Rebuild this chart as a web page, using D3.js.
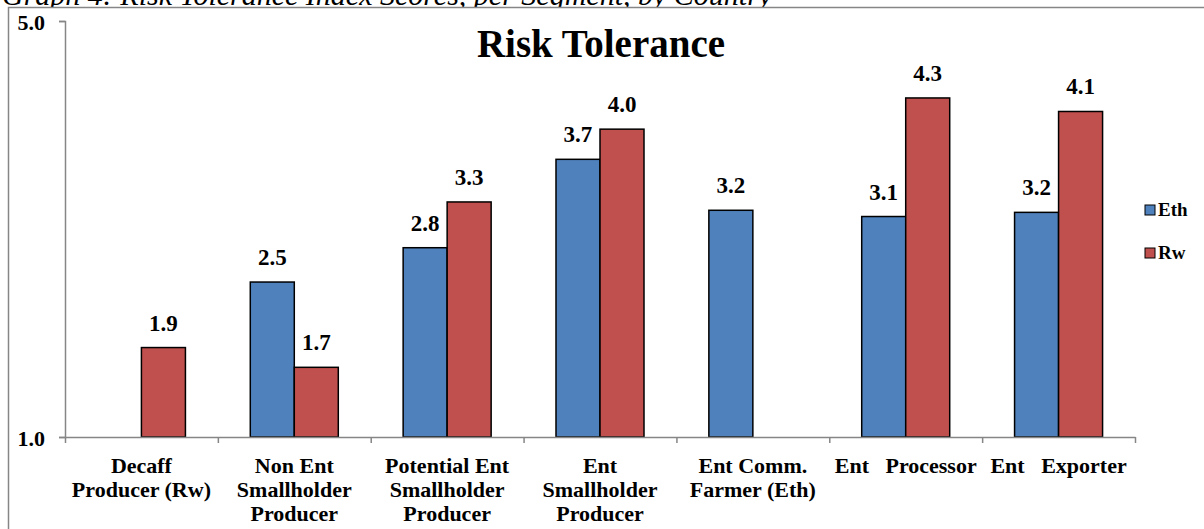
<!DOCTYPE html>
<html>
<head>
<meta charset="utf-8">
<script src="https://cdn.jsdelivr.net/npm/d3@7"></script>
<style>
  html, body { margin: 0; padding: 0; background: #ffffff; }
  svg { display: block; }
  text { font-family: "Liberation Serif", "DejaVu Serif", serif; }
</style>
</head>
<body>
<svg id="chart" width="1204" height="529"></svg>
<script>
// ---- Data ----
const categories = [
  ["Decaff", "Producer (Rw)"],
  ["Non Ent", "Smallholder", "Producer"],
  ["Potential Ent", "Smallholder", "Producer"],
  ["Ent", "Smallholder", "Producer"],
  ["Ent Comm.", "Farmer (Eth)"],
  ["Ent   Processor"],
  ["Ent   Exporter"]
];
const seriesNames = ["Eth", "Rw"];
const ethValues = [null, 2.49, 2.82, 3.67, 3.18, 3.12, 3.16];
const rwValues  = [1.86, 1.67, 3.26, 3.96, null, 4.26, 4.13];
const yTicks = [1.0, 5.0];
const seriesColors = ["#4F81BD", "#C0504D"];
const chartTitle = "Risk Tolerance";
const caption = "Graph 4: Risk Tolerance Index Scores, per Segment, by Country";

// ---- Layout ----
const svg = d3.select("#chart");
const plot = { left: 65, right: 1135, top: 21, bottom: 437 };

const x = d3.scaleBand()
  .domain(d3.range(categories.length))
  .range([plot.left, plot.right])
  .paddingInner(0).paddingOuter(0);

const xSub = d3.scaleBand()
  .domain(seriesNames)
  .range([0, x.bandwidth()])
  .paddingInner(0)
  .paddingOuter(0.737);

const y = d3.scaleLinear().domain([1, 5]).range([plot.bottom, plot.top]);

// caption (partly above the top edge, as in the source)
svg.append("text")
  .attr("x", 2).attr("y", 5)
  .attr("font-style", "italic")
  .attr("font-size", 30)
  .attr("fill", "#000")
  .text(caption);

// white band under the border so the caption is clipped like the source
svg.append("rect")
  .attr("x", 0).attr("y", 7)
  .attr("width", 1204).attr("height", 30)
  .attr("fill", "#fff");

// chart area border
svg.append("rect")
  .attr("x", 8.5).attr("y", 7.5)
  .attr("width", 1200).attr("height", 540)
  .attr("fill", "none")
  .attr("stroke", "#868686")
  .attr("stroke-width", 1.5);

// title
svg.append("text")
  .attr("x", 601).attr("y", 57)
  .attr("text-anchor", "middle")
  .attr("font-weight", "bold")
  .attr("font-size", 39)
  .attr("fill", "#000")
  .text(chartTitle);

// bars
const rows = [];
categories.forEach((c, i) => {
  [ethValues[i], rwValues[i]].forEach((v, s) => {
    if (v !== null) rows.push({ i, s, v });
  });
});

svg.append("g").selectAll("rect")
  .data(rows)
  .join("rect")
  .attr("x", d => x(d.i) + xSub(seriesNames[d.s]))
  .attr("y", d => y(d.v))
  .attr("width", xSub.bandwidth())
  .attr("height", d => y(1) - y(d.v))
  .attr("fill", d => seriesColors[d.s])
  .attr("stroke", "#000")
  .attr("stroke-width", 1.5);

// data labels
svg.append("g").selectAll("text")
  .data(rows)
  .join("text")
  .attr("x", d => x(d.i) + xSub(seriesNames[d.s]) + xSub.bandwidth() / 2)
  .attr("y", d => y(d.v) - 17)
  .attr("text-anchor", "middle")
  .attr("font-weight", "bold")
  .attr("font-size", 23)
  .attr("fill", "#000")
  .text(d => d.v.toFixed(1));

// y axis
const yAxis = d3.axisLeft(y)
  .tickValues(yTicks)
  .tickSize(6)
  .tickFormat(d3.format(".1f"));
const gy = svg.append("g")
  .attr("transform", `translate(${plot.left},0)`)
  .call(yAxis);
gy.select(".domain").attr("stroke", "#868686").attr("stroke-width", 1.5);
gy.selectAll(".tick line").attr("stroke", "#868686").attr("stroke-width", 1.5);
gy.selectAll(".tick text")
  .attr("x", -20)
  .attr("dy", "0.38em")
  .attr("font-family", "Liberation Serif, serif")
  .attr("font-weight", "bold")
  .attr("font-size", 22)
  .attr("fill", "#000");

// x axis
const xAxisLine = d3.axisBottom(d3.scaleLinear().domain([0, categories.length]).range([plot.left, plot.right]))
  .tickValues(d3.range(categories.length + 1))
  .tickSize(6)
  .tickSizeOuter(0)
  .tickFormat("");
const gx = svg.append("g")
  .attr("transform", `translate(0,${plot.bottom})`)
  .call(xAxisLine);
gx.select(".domain").attr("stroke", "#868686").attr("stroke-width", 1.5);
gx.selectAll(".tick line").attr("stroke", "#868686").attr("stroke-width", 1.5);

// category labels
const catG = svg.append("g");
categories.forEach((lines, i) => {
  const t = catG.append("text")
    .attr("x", x(i) + x.bandwidth() / 2)
    .attr("y", 473)
    .attr("text-anchor", "middle")
    .attr("font-weight", "bold")
    .attr("font-size", 22)
    .attr("fill", "#000")
    .style("white-space", "pre")
    .attr("xml:space", "preserve");
  lines.forEach((ln, k) => {
    t.append("tspan")
      .attr("x", x(i) + x.bandwidth() / 2)
      .attr("dy", k === 0 ? 0 : 24)
      .text(ln);
  });
});

// legend
const legend = svg.append("g");
seriesNames.forEach((name, s) => {
  const ly = 210 + s * 43;
  legend.append("rect")
    .attr("x", 1145).attr("y", ly - 5)
    .attr("width", 10).attr("height", 10)
    .attr("fill", seriesColors[s])
    .attr("stroke", "#000")
    .attr("stroke-width", 1);
  legend.append("text")
    .attr("x", 1158).attr("y", ly + 6)
    .attr("font-weight", "bold")
    .attr("font-size", 19)
    .attr("fill", "#000")
    .text(name);
});
</script>
</body>
</html>
